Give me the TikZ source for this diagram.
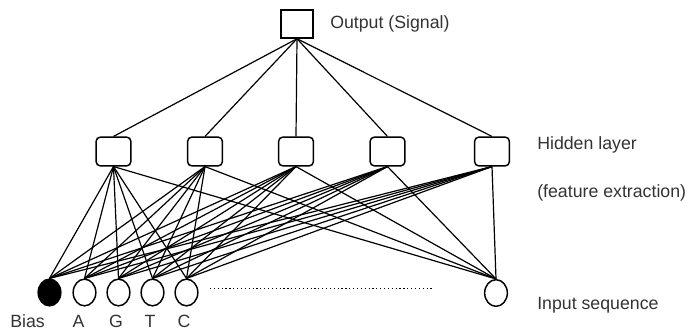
\documentclass[tikz,border=0pt]{standalone}
\usepackage{fontspec}
\setmainfont{Liberation Sans}
\usepackage{xcolor}
\usepackage{tikz}
\usetikzlibrary{shapes.geometric}
\definecolor{Ink}{HTML}{000000}
\definecolor{Label}{HTML}{333333}
\tikzset{
  unit/.style={
    draw=Ink, line width=1.1pt, rounded corners=3pt,
    minimum width=26pt, minimum height=21.5pt, inner sep=0pt
  },
  outunit/.style={unit,rounded corners=0pt,minimum width=24pt,minimum height=21pt},
  inunit/.style={
    draw=Ink, line width=1.1pt, ellipse,
    minimum width=17pt, minimum height=20pt, inner sep=0pt
  },
  biasunit/.style={inunit,fill=Ink},
  link/.style={line width=.9pt,draw=Ink},
  lab/.style={font=\fontsize{13.3}{15}\selectfont,color=Label,inner sep=0pt}
}

\begin{document}
\begin{tikzpicture}[x=0.75pt,y=-0.75pt]
  \useasboundingbox (0,0) rectangle (691,331);
  % output and hidden layer
  \node[outunit] (out) at (297,24) {};
  \foreach \i/\x in {1/113.5,2/205,3/296,4/387.5,5/492}
    \node[unit] (h\i) at (\x,151.5) {};
  % input layer
  \node[biasunit] (bias) at (49.5,292.5) {};
  \foreach \i/\x in {1/84.5,2/118.5,3/152.5,4/186.5}
    \node[inunit] (in\i) at (\x,292.5) {};
  \node[inunit] (inN) at (496,293) {};
  \draw[line width=.9pt,dotted,Ink] (210,288.5) -- (432,288.5);
  % connections
  \foreach \i in {1,...,5}
    \draw[link] (out.south) -- (h\i.north);
  \foreach \i in {1,...,5}
    \foreach \j in {bias,in1,in2,in3,in4,inN}
      \draw[link] (h\i.south) -- (\j.north);
  % labels
  \node[lab,anchor=west] (outlab) at (330,24) {Output (Signal)};
  \node[lab,anchor=west] (hidlab) at (537,145) {Hidden layer};
  \node[lab,anchor=west] (featlab) at (537,193) {(feature extraction)};
  \node[lab,anchor=west] (inlab) at (537,305) {Input sequence};
  \node[lab] (biaslab) at (27.5,321) {Bias};
  \node[lab] (alab) at (78.5,321) {A};
  \node[lab] (glab) at (116,321) {G};
  \node[lab] (tlab) at (150,321) {T};
  \node[lab] (clab) at (184,321) {C};
\end{tikzpicture}
\end{document}
